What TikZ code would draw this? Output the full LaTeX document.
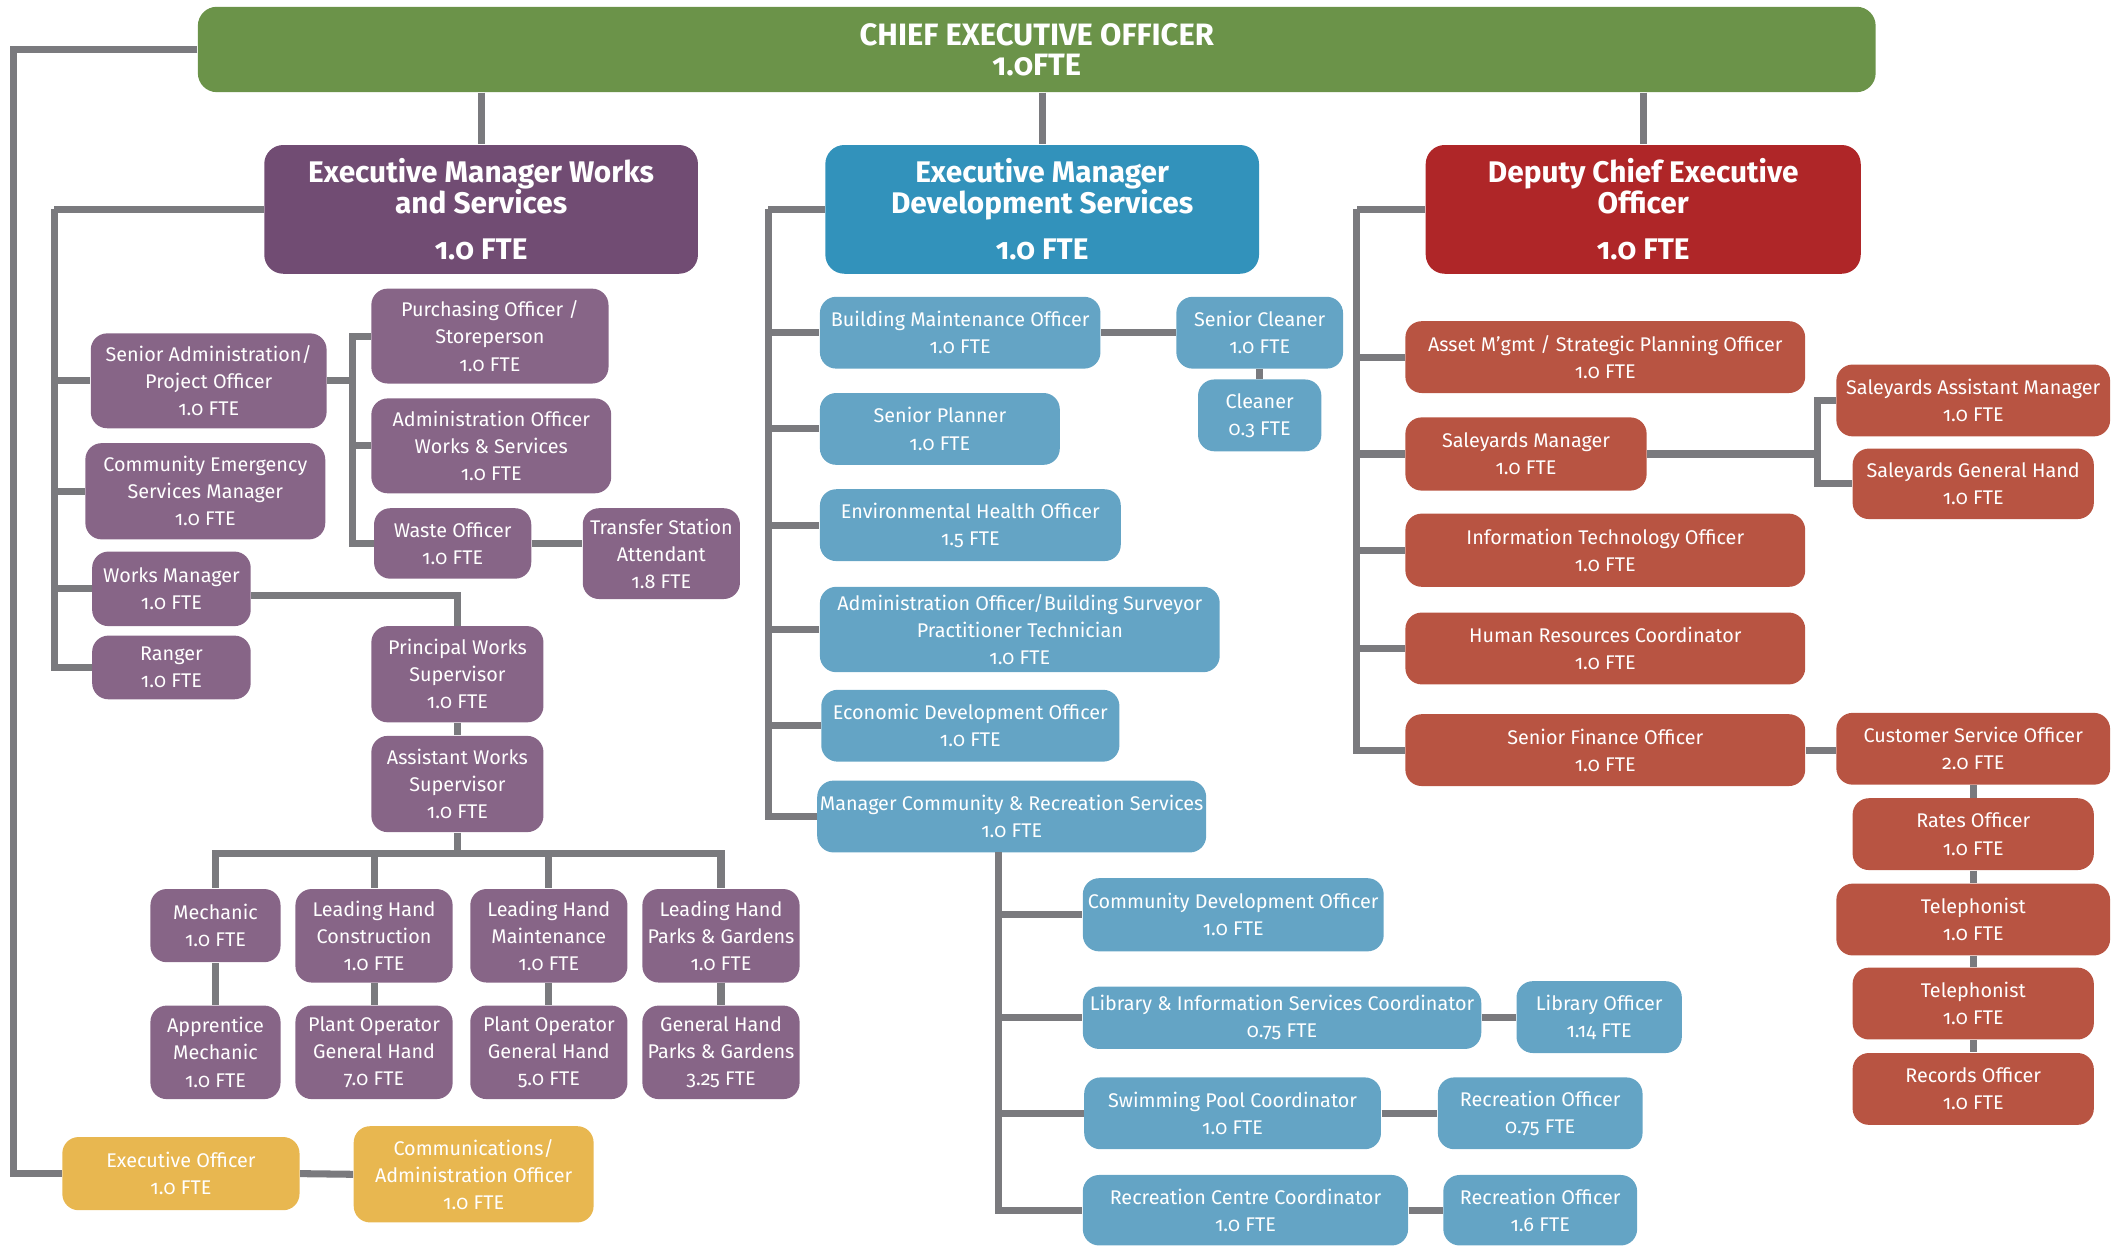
\documentclass[tikz,border=0pt]{standalone}
\usepackage{fontspec}
\setmainfont{Fira Sans}[Numbers=OldStyle]
\definecolor{ceogreen}{HTML}{6B9349}
\definecolor{worksdark}{HTML}{714C73}
\definecolor{workpurple}{HTML}{876587}
\definecolor{devdark}{HTML}{3292BB}
\definecolor{devblue}{HTML}{64A4C5}
\definecolor{corpdark}{HTML}{AF2628}
\definecolor{corpred}{HTML}{B85442}
\definecolor{execgold}{HTML}{E8B750}
\definecolor{linkgray}{HTML}{7A7A7E}
\begin{document}
\begin{tikzpicture}[x=0.5pt,y=-0.5pt,
  sz/.style 2 args={minimum width=#1*0.5pt,minimum height=#2*0.5pt},
  box/.style={rounded corners=6pt,inner sep=1pt,align=center,text=white,font=\fontsize{7.3}{10}\selectfont},
  wbox/.style={box,fill=workpurple},
  dbox/.style={box,fill=devblue},
  cbox/.style={box,fill=corpred},
  ebox/.style={box,fill=execgold},
  head/.style={box,rounded corners=7pt,font=\bfseries\fontsize{11}{11.5}\selectfont},
  link/.style={draw=linkgray,line width=2.6pt}]
\useasboundingbox (0,0) rectangle (1568,919);

% heads
\node[head,fill=ceogreen,sz={1238}{63},font=\bfseries\fontsize{11.4}{11}\selectfont] (ceo) at (765,36.5) {CHIEF EXECUTIVE OFFICER\\1.0FTE};
\node[head,fill=worksdark,sz={320}{95}] (emw) at (355,154.5) {Executive Manager Works\\and Services\\[5.5pt]1.0 FTE};
\node[head,fill=devdark,sz={320}{95}] (emd) at (769,154.5) {Executive Manager\\Development Services\\[5.5pt]1.0 FTE};
\node[head,fill=corpdark,sz={321}{95}] (dceo) at (1212.5,154.5) {Deputy Chief Executive\\Officer\\[5.5pt]1.0 FTE};

% works and services
\node[wbox,sz={175}{70}] (purch) at (361.5,248) {Purchasing Officer /\\Storeperson\\1.0 FTE};
\node[wbox,sz={174}{70}] (sadmin) at (154,281) {Senior Administration/\\Project Officer\\1.0 FTE};
\node[wbox,sz={177}{70}] (adminws) at (362.5,329) {Administration Officer\\Works \& Services\\1.0 FTE};
\node[wbox,sz={177}{71}] (cesm) at (151.5,362.5) {Community Emergency\\Services Manager\\1.0 FTE};
\node[wbox,sz={116}{52}] (waste) at (334,401) {Waste Officer\\1.0 FTE};
\node[wbox,sz={116}{67}] (tsa) at (488,408.5) {Transfer Station\\Attendant\\1.8 FTE};
\node[wbox,sz={117}{55}] (wmgr) at (126.5,434.5) {Works Manager\\1.0 FTE};
\node[wbox,sz={117}{47}] (ranger) at (126.5,492.5) {Ranger\\1.0 FTE};
\node[wbox,sz={127}{71}] (pws) at (337.5,497.5) {Principal Works\\Supervisor\\1.0 FTE};
\node[wbox,sz={127}{71}] (aws) at (337.5,578.5) {Assistant Works\\Supervisor\\1.0 FTE};
\node[wbox,sz={96}{54}] (mech) at (159,683) {Mechanic\\1.0 FTE};
\node[wbox,sz={96}{69}] (appr) at (159,776.5) {Apprentice\\Mechanic\\1.0 FTE};
\foreach \n/\x/\t in {lhc/276/{Leading Hand\\Construction\\1.0 FTE},lhm/405/{Leading Hand\\Maintenance\\1.0 FTE},lhp/532/{Leading Hand\\Parks \& Gardens\\1.0 FTE}}
  {\node[wbox,sz={116}{69}] (\n) at (\x,690.5) {\t};}
\foreach \n/\x/\t in {po7/276/{Plant Operator\\General Hand\\7.0 FTE},po5/405/{Plant Operator\\General Hand\\5.0 FTE},ghp/532/{General Hand\\Parks \& Gardens\\3.25 FTE}}
  {\node[wbox,sz={116}{69}] (\n) at (\x,776.5) {\t};}

% executive office
\node[ebox,sz={175}{54}] (execoff) at (133.5,866) {Executive Officer\\1.0 FTE};
\node[ebox,sz={177}{71}] (comms) at (349.5,866.5) {Communications/\\Administration Officer\\1.0 FTE};

% development services
\node[dbox,sz={207}{53}] (bmo) at (708.5,245.5) {Building Maintenance Officer\\1.0 FTE};
\node[dbox,sz={123}{53}] (scln) at (929.5,245.5) {Senior Cleaner\\1.0 FTE};
\node[dbox,sz={91}{53}] (cln) at (929.5,306.5) {Cleaner\\0.3 FTE};
\node[dbox,sz={177}{53}] (splan) at (693.5,316.5) {Senior Planner\\1.0 FTE};
\node[dbox,sz={222}{53}] (eho) at (716,387.5) {Environmental Health Officer\\1.5 FTE};
\node[dbox,sz={295}{63}] (aobs) at (752.5,464.5) {Administration Officer/Building Surveyor\\Practitioner Technician\\1.0 FTE};
\node[dbox,sz={220}{53}] (edo) at (716,535.5) {Economic Development Officer\\1.0 FTE};
\node[dbox,sz={283}{53}] (mcrs) at (746.5,602.5) {Manager Community \& Recreation Services\\1.0 FTE};
\node[dbox,sz={222}{54}] (cdo) at (910,675) {Community Development Officer\\1.0 FTE};
\node[dbox,sz={294}{46}] (lisc) at (946,751) {Library \& Information Services Coordinator\\0.75 FTE};
\node[dbox,sz={122}{53}] (liboff) at (1180,750.5) {Library Officer\\1.14 FTE};
\node[dbox,sz={219}{53}] (spc) at (909.5,821.5) {Swimming Pool Coordinator\\1.0 FTE};
\node[dbox,sz={151}{53}] (reco1) at (1136.5,821.5) {Recreation Officer\\0.75 FTE};
\node[dbox,sz={240}{52}] (rcc) at (919,893) {Recreation Centre Coordinator\\1.0 FTE};
\node[dbox,sz={143}{52}] (reco2) at (1136.5,893) {Recreation Officer\\1.6 FTE};

% corporate
\node[cbox,sz={295}{53}] (aspo) at (1184.5,263.5) {Asset M’gmt / Strategic Planning Officer\\1.0 FTE};
\node[cbox,sz={178}{54}] (smgr) at (1126,335) {Saleyards Manager\\1.0 FTE};
\node[cbox,sz={202}{53}] (sam) at (1456,295.5) {Saleyards Assistant Manager\\1.0 FTE};
\node[cbox,sz={178}{52}] (sgh) at (1456,357) {Saleyards General Hand\\1.0 FTE};
\node[cbox,sz={295}{54}] (ito) at (1184.5,406) {Information Technology Officer\\1.0 FTE};
\node[cbox,sz={295}{53}] (hrc) at (1184.5,478.5) {Human Resources Coordinator\\1.0 FTE};
\node[cbox,sz={295}{53}] (sfo) at (1184.5,553.5) {Senior Finance Officer\\1.0 FTE};
\foreach \n/\y/\w/\t in {cso/552.5/202/{Customer Service Officer\\2.0 FTE},rates/615.5/178/{Rates Officer\\1.0 FTE},tel1/678.5/202/{Telephonist\\1.0 FTE},tel2/740.5/178/{Telephonist\\1.0 FTE},recs/803.5/178/{Records Officer\\1.0 FTE}}
  {\node[cbox,sz={\w}{53}] (\n) at (1456,\y) {\t};}

% links
\coordinate (rim) at (10,866);
\coordinate (pbus) at (40,154.5);
\coordinate (abus) at (260,281);
\coordinate (crew) at (337.5,630);
\coordinate (dbus) at (567,154.5);
\coordinate (cbus) at (737,629);
\coordinate (rbus) at (1001,154.5);
\coordinate (sbus) at (1341,335);
\foreach \n in {emw,emd,dceo} {\draw[link] (ceo.south -| \n.north) -- (\n.north);}
\draw[link] (ceo.west) -| (rim) -- (execoff.west);
\draw[link] (execoff.east) -- (comms.west);
\draw[link] (emw.west) -- (pbus);
\foreach \n in {sadmin,cesm,wmgr,ranger} {\draw[link] (pbus) |- (\n.west);}
\draw[link] (sadmin.east) -- (abus);
\foreach \n in {purch,adminws,waste} {\draw[link] (abus) |- (\n.west);}
\draw[link] (waste.east) -- (waste.east -| tsa.west);
\draw[link] ([yshift=-2.5pt]wmgr.east) -| (pws.north);
\draw[link] (pws.south) -- (aws.north);
\draw[link] (aws.south) -- (crew);
\foreach \n in {mech,lhc,lhm,lhp} {\draw[link] (crew) -| (\n.north);}
\foreach \a/\b in {mech/appr,lhc/po7,lhm/po5,lhp/ghp} {\draw[link] (\a.south) -- (\b.north);}
\draw[link] (emd.west) -- (dbus);
\foreach \n in {bmo,splan,eho,aobs,edo,mcrs} {\draw[link] (dbus) |- (\n.west);}
\draw[link] (bmo.east) -- (scln.west);
\draw[link] (scln.south) -- (cln.north);
\foreach \n in {cdo,lisc,spc,rcc} {\draw[link] (cbus) |- (\n.west);}
\draw[link] (lisc.east) -- (lisc.east -| liboff.west);
\draw[link] (spc.east) -- (reco1.west);
\draw[link] (rcc.east) -- (reco2.west);
\draw[link] (dceo.west) -- (rbus);
\foreach \n in {aspo,smgr,ito,hrc,sfo} {\draw[link] (rbus) |- (\n.west);}
\draw[link] (smgr.east) -- (sbus);
\foreach \n in {sam,sgh} {\draw[link] (sbus) |- (\n.west);}
\draw[link] (sfo.east) -- (sfo.east -| cso.west);
\foreach \a/\b in {cso/rates,rates/tel1,tel1/tel2,tel2/recs} {\draw[link] (\a.south) -- (\b.north);}
\end{tikzpicture}
\end{document}
